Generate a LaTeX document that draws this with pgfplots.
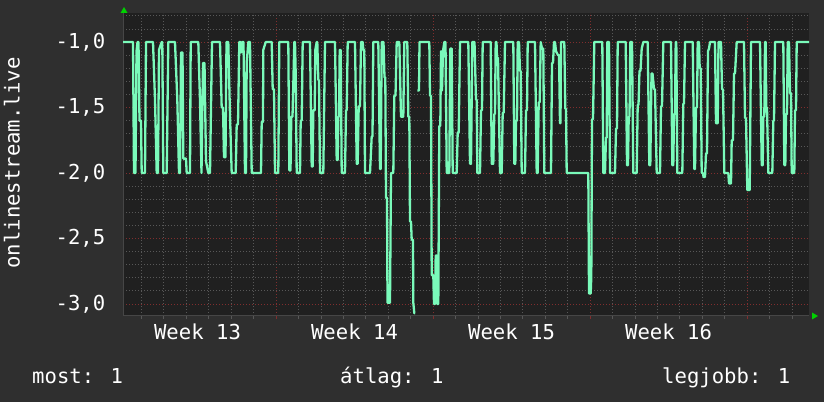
\documentclass[border=0pt]{standalone}
\usepackage{fontspec}
\setmainfont{DejaVu Sans Mono}
\setmonofont{DejaVu Sans Mono}
\usepackage{pgfplots}
\pgfplotsset{compat=1.18}
\definecolor{bgout}{RGB}{47,47,47}
\definecolor{canvas}{RGB}{32,32,32}
\definecolor{mint}{RGB}{122,250,186}
\definecolor{gridminor}{RGB}{88,88,88}
\definecolor{gridmajor}{RGB}{128,46,46}
\definecolor{arrowg}{RGB}{0,210,0}
\definecolor{axisline}{RGB}{70,70,70}
\newcommand{\rrdfont}{\fontsize{20.6bp}{24bp}\selectfont}
\begin{document}
\begin{tikzpicture}
\useasboundingbox (0,0) rectangle (824bp,402bp);
\fill[bgout] (0,0) rectangle (824bp,402bp);
\begin{axis}[
  at={(123bp,86bp)}, anchor=south west,
  scale only axis, width=686bp, height=303bp,
  xmin=123, xmax=809, ymin=-3.092, ymax=-0.778,
  axis background/.style={fill=canvas},
  axis x line*=bottom, axis y line*=left,
  axis line style={draw=axisline, line width=1bp},
  unbounded coords=jump,
  xtick={276,433,590,747}, xticklabels={},
  minor xtick={141.4,163.8,186.3,208.7,231.1,253.6,298.4,320.9,343.3,365.7,388.1,410.6,455.4,477.9,500.3,522.7,545.2,567.6,612.4,634.9,657.3,679.7,702.2,724.6,769.5,791.9},
  extra x ticks={197.5,354.5,511.5,668.5},
  extra x tick labels={Week 13,Week 14,Week 15,Week 16},
  extra x tick style={major tick length=0pt, grid=none},
  ytick={-3,-2.5,-2,-1.5,-1},
  yticklabels={{-3,0},{-2,5},{-2,0},{-1,5},{-1,0}},
  minor ytick={-2.9,-2.8,-2.7,-2.6,-2.4,-2.3,-2.2,-2.1,-1.9,-1.8,-1.7,-1.6,-1.4,-1.3,-1.2,-1.1,-0.9,-0.8},
  grid=both,
  major grid style={draw=gridmajor, line width=0.8bp, dash pattern=on 1.2bp off 1.8bp},
  minor grid style={draw=gridminor, line width=0.8bp, dash pattern=on 1.2bp off 1.8bp},
  tick align=outside,
  major tick length=3bp, minor tick length=3bp,
  major tick style={draw=gridmajor, line width=0.8bp},
  minor tick style={draw=gridminor, line width=0.8bp},
  ytick style={draw=none},
  ticklabel style={font=\rrdfont, text=white},
  xticklabel style={inner sep=0pt, anchor=north, yshift=-7.5bp},
  yticklabel style={inner sep=0pt, anchor=east, xshift=-14.5bp},
  clip=true,
]
\addplot[mint, line width=2.3bp, line join=round] coordinates {
(123,-1.0)(133,-1.0)(134,-2.0)(135.5,-2.0)(136.5,-1.07)(137.5,-1.0)(138.5,-1.0)(139.5,-1.6)(141,-1.6)(141.7,-2.0)
(145,-2.0)(146,-1.0)(153,-1.0)(155,-1.44)(156.7,-2.0)(158,-2.0)(159,-1.06)(161.7,-1.0)(162.3,-1.0)(163.3,-2.0)
(166.7,-2.0)(168.3,-1.0)(175,-1.0)(177.3,-1.44)(179,-2.0)(180,-2.0)(181,-1.08)(182.5,-1.08)(183.3,-1.89)(186,-1.89)
(186.7,-2.0)(190,-2.0)(190.7,-1.0)(198.3,-1.0)(200,-1.45)(201.5,-2.0)(203,-1.16)(204.5,-1.16)(206,-1.91)(208.3,-2.0)
(210,-2.0)(212,-1.0)(220,-1.0)(221.7,-1.5)(223,-1.5)(224,-1.88)(225.5,-1.88)(226.5,-1.0)(228.3,-1.0)(230,-1.56)
(231.7,-2.0)(235.7,-2.0)(236.7,-1.63)(238,-1.63)(239.3,-1.0)(240.5,-1.0)(241,-1.08)(242,-1.0)(243.5,-1.0)(245,-2.0)
(246,-2.0)(246.7,-1.16)(248.3,-1.0)(250,-1.0)(251.7,-2.0)(261,-2.0)
(261.7,-1.61)(263,-1.61)(263.3,-1.06)(265.7,-1.0)(271.7,-1.0)(272.7,-1.36)(274,-1.36)(275,-2.0)(278.3,-2.0)(279.3,-1.0)
(288.3,-1.0)(289.3,-1.98)(290.5,-1.98)(291.3,-1.57)(292.5,-1.57)(293.7,-1.2)(294.3,-1.0)(295,-1.0)(295.7,-1.24)(296.7,-2.0)
(300,-2.0)(300.7,-1.6)(301.7,-1.6)(302.7,-1.0)(310,-1.0)(311.7,-1.95)(312.7,-1.95)(313.3,-1.52)(314.7,-1.52)(315.3,-1.06)
(316.7,-1.0)(317.3,-1.0)(318.3,-1.29)(319,-1.29)(320,-2.0)(323.3,-2.0)(325,-1.0)(335,-1.0)(336.7,-1.9)(337.7,-1.9)
(338.3,-1.57)(339,-1.57)(339.7,-1.06)(340.7,-1.06)(341.7,-2.0)(345,-2.0)(346,-1.52)(346.7,-1.52)(347.7,-1.0)(355,-1.0)
(356.7,-1.93)(357.7,-1.93)(358.7,-1.49)(360,-1.49)(361,-1.0)(362.7,-1.0)(363.3,-1.06)(364.3,-1.06)(365,-2.0)(370,-2.0)
(371.7,-1.72)(372.5,-1.72)(373.3,-1.0)(378.3,-1.0)(380,-1.97)(380.7,-1.97)(381.7,-1.0)(383.5,-1.0)(384.5,-1.27)(385.3,-1.27)
(386,-2.19)(387,-2.19)(387.5,-2.99)(390,-2.99)(391,-2.0)(393.3,-2.0)(394.3,-1.41)(395.5,-1.41)(396.7,-1.0)(399.3,-1.0)
(401,-1.57)(403.3,-1.57)(404.3,-1.0)(407.3,-1.0)(408.3,-1.57)(409.3,-1.57)(410,-2.37)(411,-2.37)(411.7,-2.51)(413,-2.51)
(413.3,-2.99)(414.3,-3.07)(415,-3.07)(416,nan)
(417.3,-1.37)(419,-1.37)(419.5,-1.0)(429.3,-1.0)(430,-1.41)(431,-1.41)(431.7,-2.78)(433.3,-2.78)(434,-3.0)(435,-3.0)
(435.7,-2.63)(436.7,-2.63)(437.3,-3.0)(438.3,-3.0)(439.3,-1.64)(440.3,-1.64)(441,-1.07)(442,-1.37)(443,-1.07)(444.3,-1.0)
(445.5,-1.0)(446.7,-2.0)(449.3,-2.0)(450.3,-1.05)(451.7,-1.05)(452.7,-2.0)(456.7,-2.0)(457.7,-1.69)(458.7,-1.69)(460,-1.0)
(468.3,-1.0)(470,-1.93)(471,-1.93)(472.3,-1.0)(474.5,-1.0)(476,-1.44)(476.7,-1.44)(477.3,-2.0)(480,-2.0)
(481,-1.52)(482,-1.52)(482.7,-1.0)(490.7,-1.0)(491.7,-1.93)(493.3,-1.93)(494.3,-1.55)(495,-1.55)(495.7,-1.0)(496.5,-1.0)
(497,-1.12)(498,-1.12)(500,-2.0)(501.7,-2.0)(502.7,-1.54)(503.7,-1.54)(505,-1.0)(513.3,-1.0)(514.3,-1.93)(515.3,-1.93)
(516,-1.6)(517,-1.6)(517.7,-1.0)(519,-1.0)(520,-1.22)(520.7,-1.22)(521.7,-2.0)(525,-2.0)(526,-1.52)(527,-1.52)
(527.7,-1.0)(535,-1.0)(536.7,-2.0)(537.7,-2.0)(538.7,-1.46)(539.7,-1.46)(540.7,-1.0)(542,-1.05)(543.3,-1.05)(544.3,-2.0)
(551,-2.0)(552,-1.16)(553,-1.16)(554,-1.0)(555,-1.0)(556,-1.07)(558,-1.1)(559,-1.1)(560,-1.62)(560.5,-1.62)
(561,-1.0)(564.3,-1.0)(565.3,-1.51)(566,-1.51)(566.7,-2.0)(588.3,-2.0)(589,-2.92)(590.7,-2.92)(591.3,-2.79)(592,-1.59)
(593,-1.59)(594.3,-1.0)(602.3,-1.0)(603.3,-2.0)(605,-2.0)(606,-1.73)(606.7,-1.73)(607.3,-1.0)(609,-1.0)(610,-2.0)
(615,-2.0)(616,-1.66)(617,-1.66)(617.7,-1.0)(625.7,-1.0)(627,-1.94)(628,-1.94)(628.7,-1.57)(629.5,-1.57)(630.3,-1.0)
(632,-1.0)(633.3,-2.0)(636.7,-2.0)(637.7,-1.48)(638.5,-1.48)(639.5,-1.22)(640.5,-1.22)(641.7,-1.05)(643.3,-1.0)(647.7,-1.0)
(649.3,-1.94)(650.3,-1.94)(651.5,-1.24)(652.5,-1.24)(654,-1.36)(655,-1.36)(656.7,-2.0)(660,-2.0)(661,-1.49)(662,-1.49)
(663.3,-1.0)(671,-1.0)(672.3,-1.94)(673.3,-1.94)(674,-1.55)(675,-1.55)(675.7,-1.0)(676.3,-1.0)(677.3,-2.0)(682.3,-2.0)
(683.3,-1.47)(684,-1.47)(685,-1.0)(692.7,-1.0)(694.3,-1.97)(695,-1.97)(696,-1.5)(697,-1.5)(697.7,-1.0)(699,-1.0)
(699.7,-1.2)(700.7,-1.2)(701.7,-2.0)(703,-2.0)(703.5,-2.03)(705,-2.03)(706,-1.85)(707,-1.85)(708,-1.07)(709,-1.05)
(710,-1.0)(715,-1.0)(716,-1.62)(717.7,-1.62)(718.5,-1.0)(721,-1.0)(722,-1.36)(723,-1.36)(724.3,-2.0)(728.3,-2.0)
(729,-2.08)(731,-2.08)(731.7,-1.75)(733,-1.75)(734,-1.24)(735,-1.24)(736.7,-1.0)(744,-1.0)(745,-1.58)(746,-1.58)
(747.3,-2.13)(749.7,-2.13)(751,-1.0)(760,-1.0)(761.7,-1.94)(762.7,-1.94)(763.3,-1.57)(764.3,-1.57)(765,-1.0)(765.7,-1.0)
(766.3,-1.5)(767,-1.5)(768.3,-2.0)(772.3,-2.0)(773.3,-1.6)(774,-1.6)(775,-1.0)(783.3,-1.0)(784.3,-1.94)(785.3,-1.94)
(786,-1.55)(787,-1.55)(787.7,-1.0)(789,-1.0)(790,-1.39)(791,-1.39)(791.7,-2.0)(794.3,-2.0)(795,-1.52)(796,-1.52)
(796.7,-1.0)(809,-1.0)
};
\end{axis}
% axis arrows
\fill[arrowg] (120.5bp,389bp) -- (127.5bp,389bp) -- (124bp,395bp) -- cycle;
\fill[arrowg] (812bp,82.5bp) -- (812bp,89.5bp) -- (818bp,86bp) -- cycle;
% y label
\node[rotate=90, anchor=base, inner sep=0pt, text=white, font=\rrdfont] at (19.5bp,239bp) {onlinestream.live};
% legend
\node[anchor=base west, inner sep=0pt, text=white, font=\rrdfont] at (32bp,19bp) {most: 1};
\node[anchor=base west, inner sep=0pt, text=white, font=\rrdfont] at (340bp,19bp) {átlag: 1};
\node[anchor=base west, inner sep=0pt, text=white, font=\rrdfont] at (662bp,19bp) {legjobb: 1};
\end{tikzpicture}
\end{document}
